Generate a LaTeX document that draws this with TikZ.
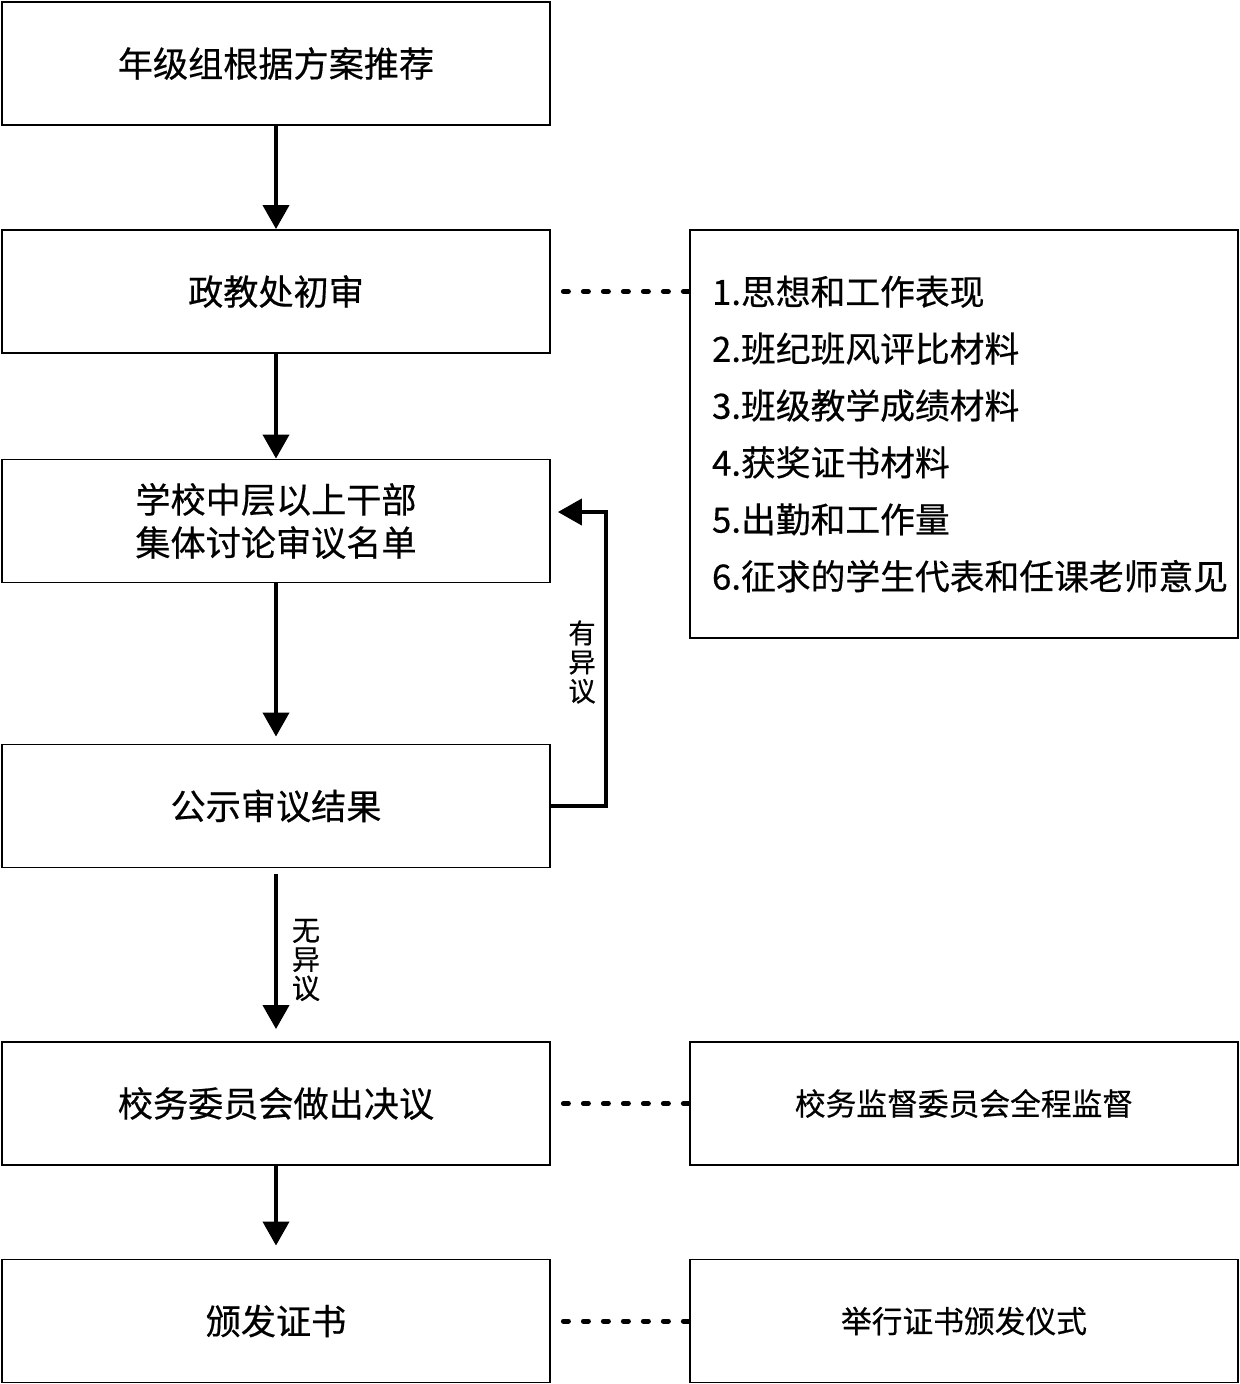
\documentclass[tikz,border=0pt]{standalone}
\usepackage{fontspec}
\setmainfont{Noto Sans CJK SC}[FakeBold=0.5]
\usepackage{tikz}
\usetikzlibrary{arrows.meta}

\tikzset{
	stage/.style={draw, line width=1.1pt, minimum width=10.96cm, minimum height=2.46cm,
		align=center, inner sep=0pt, font=\fontsize{20}{24.5}\selectfont},
	note/.style={stage, font=\fontsize{17.5}{21}\selectfont},
	flow/.style={line width=2.3pt, -{Triangle[length=4.8mm,width=5.2mm]}},
	dotline/.style={line width=0.1cm, dash pattern=on 0.1cm off 0.3cm, line cap=round},
	tag/.style={align=center, inner sep=0pt}
}

\begin{document}
\begin{tikzpicture}[x=0.02cm, y=-0.02cm]
		\useasboundingbox (0,0) rectangle (1240,1384);
		
		% left column
		\node[stage] (tj) at (276, 63.5) {年级组根据方案推荐};
		\node[stage] (cs) at (276, 291.5) {政教处初审};
		\node[stage] (js) at (276, 521) {学校中层以上干部\\集体讨论审议名单};
		\node[stage] (gs) at (276, 806) {公示审议结果};
		\node[stage] (jy) at (276, 1103.5) {校务委员会做出决议};
		\node[stage] (bf) at (276, 1321) {颁发证书};
		
		% right column
		\node[stage, minimum height=8.16cm, align=left, text width=10.08cm,
			font=\fontsize{19.8}{32.4}\selectfont] (cl) at (964, 434)
			{1.思想和工作表现\\2.班纪班风评比材料\\3.班级教学成绩材料\\4.获奖证书材料\\5.出勤和工作量\\6.征求的学生代表和任课老师意见};
		\node[note] (jd) at (964, 1103.5) {校务监督委员会全程监督};
		\node[note] (ys) at (964, 1321) {举行证书颁发仪式};
		
		% arrows
		\draw[flow] (tj) -- (cs);
		\draw[flow] (cs) -- (js);
		\draw[flow, shorten >=0.14cm] (js) -- (gs);
		\draw[flow, shorten <=0.12cm, shorten >=0.24cm] (gs) -- (jy);
		\draw[flow, shorten >=0.26cm] (jy) -- (bf);
		
		\coordinate (turn) at (606, 512);
		\draw[flow, shorten >=0.14cm] (gs.east) -| (turn) -- (js.east |- turn);
		\node[tag, font=\fontsize{15.5}{16.5}\selectfont] (yy) at (582, 662) {有\\异\\议};
		\node[tag, font=\fontsize{16}{16.5}\selectfont] (wy) at (306, 960) {无\\异\\议};
		
		% dotted links
		\draw[dotline, shorten <=0.25cm] (cs) -- (cs -| cl.west);
		\draw[dotline, shorten <=0.25cm] (jy) -- (jd);
		\draw[dotline, shorten <=0.25cm] (bf) -- (ys);
\end{tikzpicture}
\end{document}
